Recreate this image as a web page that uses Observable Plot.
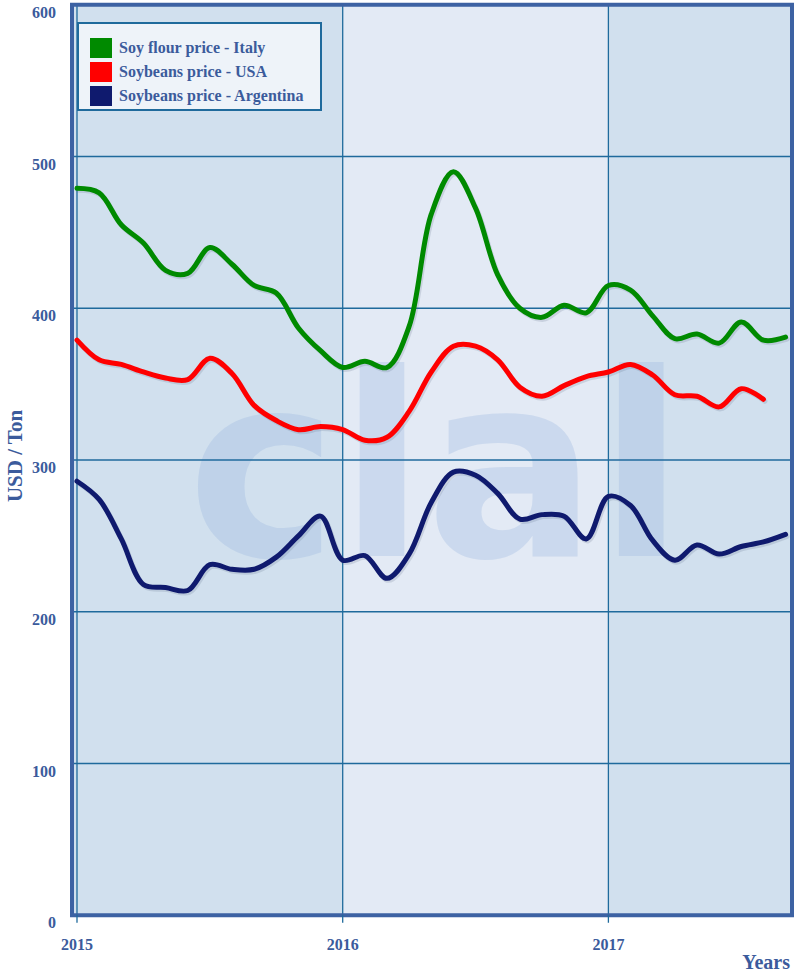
<!DOCTYPE html>
<html><head><meta charset="utf-8">
<script src="https://cdn.jsdelivr.net/npm/d3@7"></script>
<script src="https://cdn.jsdelivr.net/npm/@observablehq/plot@0.6"></script>
<style>
body{margin:0;background:#fff;}
#wrap{position:relative;width:794px;height:972px;font-family:"Liberation Serif","Times New Roman",serif;}
#legend{position:absolute;left:77px;top:22px;width:241px;height:85px;background:#eef3f9;border:2px solid #1f6a9c;}
.row{position:absolute;left:11px;height:21px;display:flex;align-items:center;}
.sw{width:22px;height:20px;margin-right:7px;}
.lab{font-weight:bold;font-size:16px;color:#3b5b9c;white-space:nowrap;}
</style></head>
<body><div id="wrap"></div>
<script>
const months = ["2015-01","2015-02","2015-03","2015-04","2015-05","2015-06","2015-07","2015-08","2015-09","2015-10","2015-11","2015-12",
"2016-01","2016-02","2016-03","2016-04","2016-05","2016-06","2016-07","2016-08","2016-09","2016-10","2016-11","2016-12",
"2017-01","2017-02","2017-03","2017-04","2017-05","2017-06","2017-07","2017-08","2017-09"];
const soyFlourItaly = [479,476,455,443,425,423,440,429,415,410,387,372, 361,365,361,388,462,490,466,422,400,394,402,397, 415,412,395,380,383,377,391,379,381];
const soybeansUSA = [379,366,363,358,354,353,367,357,336,326,320,322, 320,313,315,332,358,375,375,366,348,342,349,355, 358,363,356,343,342,335,347,340];
const soybeansArgentina = [286,274,248,218,216,214,231,228,228,236,250,263, 234,237,222,238,272,292,290,278,261,264,263,248, 276,270,247,234,244,238,243,246,251];
const seriesNames = ["Soy flour price - Italy","Soybeans price - USA","Soybeans price - Argentina"];
const seriesColors = ["#008a00","#ff0000","#0f1a6e"];
const yTicks = [0,100,200,300,400,500,600];
const xTicks = [2015,2016,2017];
const yearBands = [{a:2014,b:2016,f:"#d1e0ee"},{a:2016,b:2017,f:"#e3eaf5"},{a:2017,b:2018,f:"#d1e0ee"}];

const toYear = m => +m.slice(0,4) + (+m.slice(5,7)-1)/12;
const rows = [];
[soyFlourItaly, soybeansUSA, soybeansArgentina].forEach((arr,i) => {
  arr.forEach((v,j) => rows.push({x: toYear(months[j]), y: v, s: seriesNames[i]}));
});

const txt = "#3b5b9c", grid = "#1f6a9c";
const font = '"Liberation Serif","Times New Roman",serif';

const chart = Plot.plot({
  width: 794, height: 972,
  marginLeft: 71.5, marginRight: 2.5, marginTop: 4.25, marginBottom: 57.25,
  style: {fontFamily: font, background: "#fff", overflow: "visible"},
  x: {domain: [2014.9812, 2017.691]},
  y: {domain: [0, 600]},
  color: {domain: seriesNames, range: seriesColors},
  marks: [
    Plot.rect(yearBands, {x1: "a", x2: "b", y1: 0, y2: 600, fill: "f", clip: true}),
    Plot.text(["clal"], {frameAnchor: "middle", text: d => d, fontSize: 255, fontWeight: "bold",
      fontFamily: "DejaVu Sans", fill: "rgb(150,178,222)", fillOpacity: 0.3, dx: 4, dy: 14}),
    Plot.gridY(yTicks.slice(1,6), {stroke: grid, strokeOpacity: 1, strokeWidth: 1.3}),
    Plot.gridX(xTicks, {stroke: grid, strokeOpacity: 1, strokeWidth: 1.3}),
    Plot.line(rows, {x: "x", y: "y", z: "s", stroke: "#55657f", strokeOpacity: 0.18, strokeWidth: 5, curve: "catmull-rom", dx: 1.5, dy: 2}),
    Plot.line(rows, {x: "x", y: "y", z: "s", stroke: "s", strokeWidth: 5, curve: "catmull-rom"}),
    Plot.frame({stroke: "#3d62a3", strokeWidth: 4}),
    Plot.axisY(yTicks, {tickSize: 0, tickPadding: 16, dy: 8, fontSize: 16, fontWeight: "bold", fill: txt, label: null}),
    Plot.axisX(xTicks, {tickSize: 8, tickPadding: 15, tickFormat: "d", fontSize: 16, fontWeight: "bold", fill: txt, stroke: grid, strokeWidth: 1.3, label: null}),
    Plot.text(["USD / Ton"], {frameAnchor: "left", text: d => d, textAnchor: "middle", lineAnchor: "middle", rotate: -90, dx: -57, dy: -4, fontSize: 21, fontWeight: "bold", fill: txt}),
    Plot.text(["Years"], {frameAnchor: "bottom-right", text: d => d, textAnchor: "end", lineAnchor: "middle", dx: -2, dy: 47, fontSize: 20, fontWeight: "bold", fill: txt})
  ]
});
const wrap = document.getElementById("wrap");
wrap.appendChild(chart);
const lg = document.createElement("div");
lg.id = "legend";
seriesNames.forEach((n,i) => {
  const r = document.createElement("div");
  r.className = "row";
  r.style.top = (13 + i*24) + "px";
  r.innerHTML = `<div class="sw" style="background:${seriesColors[i]}"></div><span class="lab">${n}</span>`;
  lg.appendChild(r);
});
wrap.appendChild(lg);
</script></body></html>
